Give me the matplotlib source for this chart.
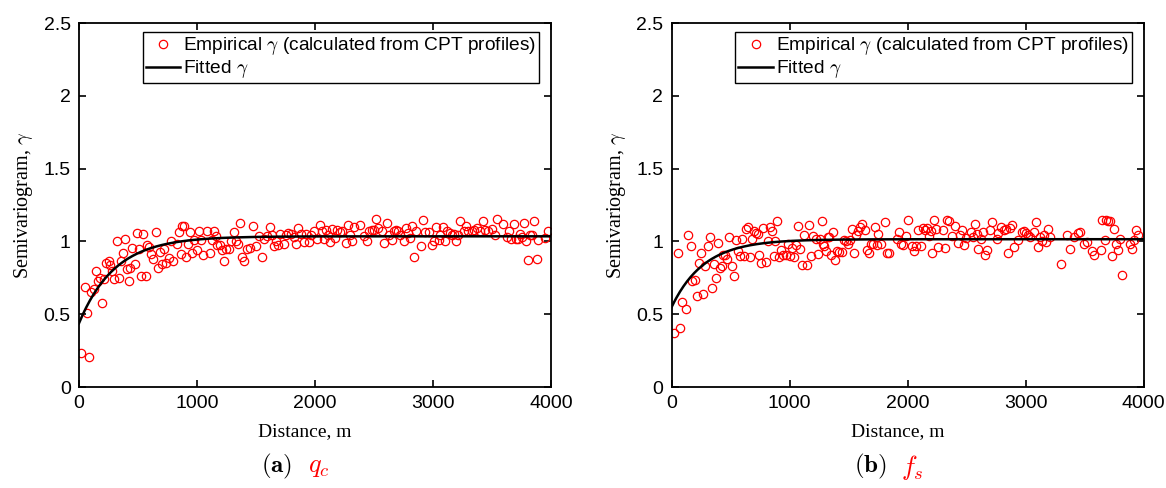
import numpy as np
import matplotlib
matplotlib.use("Agg")
import matplotlib.pyplot as plt

plt.rcParams['mathtext.fontset'] = 'cm'
plt.rcParams['font.family'] = ['Liberation Sans', 'DejaVu Sans']

# --- (a) q_c : empirical semivariogram ---
qc_dist = [17, 88, 68, 51, 102, 124, 141, 158, 175, 192, 209, 231, 254, 265, 282, 299, 322, 339, 356, 373,
           390, 407, 424, 435, 452, 475, 492, 509, 526, 543, 565, 576, 593, 610, 627, 650, 667, 684, 701, 723,
           740, 763, 780, 797, 831, 848, 865, 876, 893, 910, 927, 944, 961, 978, 1000, 1017, 1034, 1051, 1085, 1107,
           1124, 1141, 1158, 1169, 1192, 1209, 1231, 1248, 1271, 1288, 1316, 1333,
           1345, 1367, 1384, 1401, 1424, 1447, 1475, 1497, 1526, 1548, 1571, 1593, 1616, 1633, 1650, 1672, 1689, 1706,
           1735, 1752, 1774, 1797, 1820, 1842, 1859, 1882, 1910, 1927, 1950, 1967, 1989, 2018, 2040, 2057, 2074, 2091,
           2114, 2131, 2148, 2170, 2187, 2210, 2227, 2261, 2278, 2300, 2317, 2334, 2385, 2419, 2441, 2458, 2481, 2498,
           2515, 2532, 2566, 2588, 2611, 2628, 2650, 2667,
           2684, 2701, 2724, 2757, 2774, 2791, 2808, 2825, 2842, 2859, 2899, 2915, 2933, 2967, 2989, 3011, 3028, 3051,
           3062, 3085, 3102, 3119, 3141, 3158, 3175, 3192, 3209, 3226, 3260, 3282, 3299, 3333, 3350, 3373, 3401, 3424,
           3441, 3463, 3503, 3526, 3543, 3593, 3627, 3644, 3661, 3684, 3700, 3723, 3734, 3751, 3774, 3791, 3808, 3825,
           3842, 3859, 3881, 3887, 3949, 3977]
qc_gamma = [0.236, 0.204, 0.511, 0.686, 0.650, 0.674, 0.794, 0.725, 0.748, 0.576, 0.741, 0.851, 0.862, 0.835, 0.800, 0.743, 1.000, 0.752, 0.867, 0.918,
            1.019, 0.810, 0.730, 0.817, 0.954, 0.844, 1.058, 0.947, 0.759, 1.048, 0.759, 0.977, 0.961, 0.913, 0.878, 1.064, 0.817, 0.930, 0.844, 0.947,
            0.851, 0.885, 1.000, 0.862, 0.982, 1.064, 0.913, 1.108, 1.108, 0.890, 0.982, 1.064, 0.918, 1.012, 0.943, 1.073, 1.012, 0.908, 1.073, 0.918,
            1.012, 1.073, 1.035, 0.977, 0.977, 0.943, 0.862, 0.947, 0.947, 1.005, 1.064, 1.000,
            0.982, 1.129, 0.890, 0.867, 0.947, 0.954, 1.106, 0.966, 1.034, 0.894, 1.018, 1.034, 1.099, 1.046, 0.966, 1.000, 0.972, 1.050,
            0.982, 1.046, 1.057, 1.050, 1.027, 0.982, 1.092, 1.050, 0.995, 1.050, 0.995, 1.046, 1.073, 1.018, 1.115, 1.068, 1.018, 1.080,
            1.041, 0.995, 1.087, 1.023, 1.080, 1.064, 1.073, 0.989, 1.115, 1.041, 1.000, 1.096, 1.115, 1.034, 1.005, 1.068, 1.080, 1.080,
            1.152, 1.092, 1.068, 0.989, 1.129, 1.041, 1.012, 1.073,
            1.080, 1.073, 1.046, 1.005, 1.092, 1.057, 1.023, 1.103, 0.890, 1.068, 0.966, 1.149, 1.064, 1.064, 0.972, 1.005, 1.096, 1.012,
            1.041, 1.096, 1.000, 1.073, 1.057, 1.046, 1.050, 1.005, 1.046, 1.140, 1.073, 1.103, 1.073, 1.073, 1.080, 1.092, 1.073, 1.140,
            1.080, 1.073, 1.087, 1.041, 1.152, 1.119, 1.027, 1.073, 1.018, 1.119, 1.018, 1.018, 1.050, 1.027, 1.129, 1.005, 0.875, 1.041,
            1.041, 1.140, 0.882, 1.012, 1.023, 1.073]
# fitted exponential model (nugget, sill, range parameter)
qc_fit = (0.438, 1.035, 305.0)

# --- (b) f_s ---
fs_dist = [17, 73, 51, 90, 124, 141, 164, 175, 198, 214, 231, 248, 265, 282, 305, 322, 339, 356, 373, 390,
           407, 424, 435, 452, 469, 486, 509, 525, 542, 559, 576, 599, 616, 633, 650, 667, 684, 701, 718, 729,
           740, 757, 774, 796, 813, 830, 847, 864, 875, 892, 909, 926, 943, 965, 982, 999, 1016, 1033, 1050, 1067,
           1090, 1107, 1124, 1146, 1163, 1180, 1197, 1220, 1237, 1254, 1271, 1282, 1293, 1305, 1322,
           1333, 1350, 1367, 1384, 1401, 1418, 1441, 1458, 1475, 1497, 1514, 1531, 1548, 1565, 1582, 1599, 1616, 1639,
           1655, 1672, 1689, 1706, 1723, 1740, 1751, 1774, 1808, 1825, 1842, 1910, 1927, 1944, 1960, 1983, 2000, 2034,
           2057, 2074, 2091, 2114, 2131, 2148, 2165, 2182, 2199, 2210, 2227, 2244, 2261, 2295, 2318, 2335, 2352, 2374,
           2403, 2425, 2442, 2459, 2476, 2493, 2533, 2550, 2567, 2584, 2595, 2618, 2635, 2652,
           2672, 2700, 2717, 2758, 2768, 2791, 2814, 2836, 2847, 2864, 2881, 2898, 2932, 2966, 2983, 3000, 3022, 3039,
           3068, 3085, 3102, 3119, 3141, 3158, 3175, 3192, 3209, 3300, 3350, 3373, 3407, 3441, 3458, 3497, 3520, 3565,
           3582, 3638, 3650, 3672, 3684, 3701, 3718, 3729, 3746, 3763, 3785, 3797, 3814, 3887, 3898, 3915, 3932, 3955]
fs_gamma = [0.374, 0.408, 0.918, 0.583, 0.539, 1.041, 0.966, 0.725, 0.734, 0.622, 0.851, 0.918, 0.640, 0.828, 0.966, 1.032, 0.678, 0.844, 0.748, 0.991,
            0.817, 0.828, 0.904, 0.908, 0.881, 1.027, 0.828, 0.759, 1.012, 0.932, 0.897, 1.018, 0.897, 1.087, 1.096, 0.890, 1.018, 1.073, 1.057, 1.050,
            0.904, 0.851, 1.092, 0.858, 1.000, 1.096, 1.068, 0.897, 1.005, 1.142, 0.890, 0.943, 0.904, 0.904, 0.982, 0.897, 0.954, 0.890, 0.977, 1.103,
            0.950, 0.840, 1.041, 0.840, 1.115, 0.897, 1.034, 1.018, 0.913, 1.018, 1.142, 0.984, 0.966, 0.932, 1.027,
            1.027, 0.908, 1.064, 0.874, 0.932, 0.927, 0.927, 1.012, 1.000, 0.982, 1.012, 1.087, 0.920, 1.041, 1.073, 1.096, 1.119, 1.080,
            0.943, 0.920, 0.984, 0.984, 1.096, 0.977, 1.050, 0.984, 1.133, 0.920, 0.920, 1.018, 1.064, 0.984, 0.972, 1.034, 1.149, 0.966,
            0.936, 0.966, 1.080, 0.966, 1.092, 1.080, 1.092, 1.034, 1.068, 0.920, 1.149, 1.087, 0.959, 1.080, 0.954, 1.149, 1.142, 1.034,
            1.103, 0.989, 1.041, 1.080, 0.972, 1.023, 1.064, 1.027, 1.119, 1.050, 0.950, 1.018, 1.064, 0.904,
            0.943, 1.080, 1.133, 1.018, 1.057, 1.096, 1.080, 1.087, 0.920, 1.092, 1.115, 0.959, 1.012, 1.064, 1.068, 1.057, 1.041, 1.027,
            1.064, 1.133, 0.959, 1.027, 1.000, 1.046, 0.995, 1.087, 1.027, 0.844, 1.041, 0.947, 1.027, 1.057, 1.064, 0.982, 0.995, 0.936,
            0.904, 0.943, 1.149, 1.012, 1.149, 1.142, 1.142, 0.897, 1.087, 0.982, 0.943, 1.018, 0.770, 0.984, 0.950, 1.012, 1.080, 1.046]
fs_fit = (0.55, 1.015, 275.0)

panels = [(qc_dist, qc_gamma, qc_fit, r'$\mathbf{(a)}$', r'$q_c$'),
          (fs_dist, fs_gamma, fs_fit, r'$\mathbf{(b)}$', r'$f_s$')]
lefts = [79, 671.7]

fig = plt.figure(figsize=(11.66, 4.88), dpi=100)
W, H = 1166.0, 488.0

for k, (d, g, fit, tag, sym) in enumerate(panels):
    x0 = lefts[k]
    ax = fig.add_axes([x0 / W, (H - 387) / H, 472 / W, 364 / H])
    ax.plot(d, g, 'o', mfc='none', mec='red', ms=6, mew=0.9,
            label=r'Empirical $\gamma$ (calculated from CPT profiles)')
    h = np.linspace(0, 4000, 400)
    c0, c1, r = fit
    ax.plot(h, c0 + (c1 - c0) * (1 - np.exp(-h / r)), 'k-', lw=1.8, label=r'Fitted $\gamma$')

    ax.set_xlim(0, 4000)
    ax.set_ylim(0, 2.5)
    ax.set_xticks([0, 1000, 2000, 3000, 4000])
    ax.set_yticks([0, 0.5, 1, 1.5, 2, 2.5])
    ax.set_yticklabels(['0', '0.5', '1', '1.5', '2', '2.5'])
    ax.tick_params(direction='in', top=True, right=True, length=5, width=1.2, labelsize=14, pad=6)
    for s in ax.spines.values():
        s.set_linewidth(1.3)
    ax.set_xlabel('Distance, m', family=['Liberation Serif'], fontsize=14)
    ax.xaxis.set_label_coords(0.479, -0.1)
    ax.set_ylabel(r'Semivariogram, $\gamma$', family=['Liberation Serif'], fontsize=14.5, labelpad=6)

    leg = ax.legend(loc='upper left', bbox_to_anchor=(0.135, 0.974), fontsize=13.8,
                    frameon=True, fancybox=False, edgecolor='black', framealpha=1,
                    borderpad=0.15, handlelength=1.8, handletextpad=0.15, labelspacing=0.05,
                    borderaxespad=0)
    leg.get_frame().set_linewidth(1.0)

    fig.text((x0 + 182) / W, 1 - 466 / H, tag, fontsize=18, va='center')
    fig.text((x0 + 229) / W, 1 - 467 / H, sym, fontsize=19, color='red', va='center')

fig.savefig('out.png', dpi=100)
